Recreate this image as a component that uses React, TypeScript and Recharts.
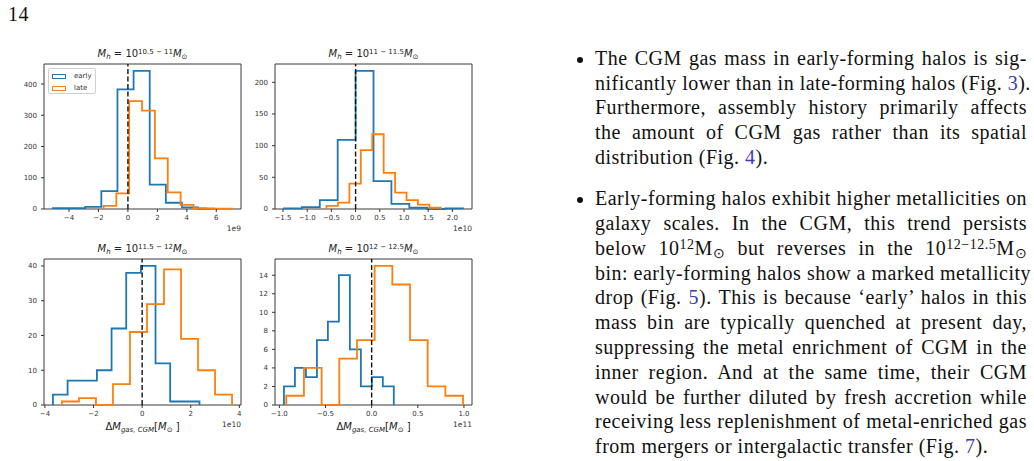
import React from 'react';
import { LineChart, Line, XAxis, YAxis, ReferenceLine, ReferenceArea } from 'recharts';

const EARLY = '#1f77b4';
const LATE = '#ff7f0e';

// Mh = 10^10.5-11, x in units of 1e9 Msun
const earlyEdgesA = [-5.09, -3.995, -2.9, -1.805, -0.71, 0.385, 1.48, 2.575, 3.67, 4.765, 5.86];
const earlyCountsA = [3, 3, 7, 57, 383, 442, 78, 20, 5, 1];
const lateEdgesA = [-1.66, -0.787, 0.086, 0.959, 1.832, 2.705, 3.578, 4.451, 5.324, 6.197, 7.07];
const lateCountsA = [10, 50, 345, 315, 162, 53, 13, 3, 1, 1];
const xTicksA = [-4, -2, 0, 2, 4, 6];
const yTicksA = [0, 100, 200, 300, 400];

// Mh = 10^11-11.5, x in units of 1e10 Msun
const earlyEdgesB = [-1.48, -1.11, -0.74, -0.37, 0.0, 0.37, 0.74, 1.11, 1.48, 1.85, 2.22];
const earlyCountsB = [1, 3, 14, 109, 218, 44, 8, 2, 0, 1];
const lateEdgesB = [-0.6, -0.364, -0.128, 0.108, 0.344, 0.58, 0.816, 1.052, 1.288, 1.524, 1.76];
const lateCountsB = [5, 10, 40, 93, 118, 57, 26, 14, 7, 2];
const xTicksB = [-1.5, -1.0, -0.5, 0.0, 0.5, 1.0, 1.5, 2.0];
const yTicksB = [0, 50, 100, 150, 200];

// Mh = 10^11.5-12, x in units of 1e10 Msun
const earlyEdgesC = [-3.67, -3.067, -2.464, -1.861, -1.258, -0.655, -0.052, 0.551, 1.154, 1.757, 2.36];
const earlyCountsC = [3, 7, 7, 10, 22, 38, 40, 12, 1, 1];
const lateEdgesC = [-3.3, -2.6, -1.9, -1.2, -0.5, 0.2, 0.9, 1.6, 2.3, 3.0, 3.7];
const lateCountsC = [1, 2, 0, 6, 21, 29, 39, 19, 10, 3];
const xTicksC = [-4, -2, 0, 2, 4];
const yTicksC = [0, 10, 20, 30, 40];

// Mh = 10^12-12.5, x in units of 1e11 Msun
const earlyEdgesD = [-0.95, -0.831, -0.712, -0.593, -0.474, -0.355, -0.236, -0.117, 0.002, 0.121, 0.24];
const earlyCountsD = [2, 4, 3, 7, 9, 14, 6, 2, 3, 2];
const lateEdgesD = [-0.925, -0.7335, -0.542, -0.3505, -0.159, 0.0325, 0.224, 0.4155, 0.607, 0.7985, 0.99];
const lateCountsD = [1, 4, 0, 5, 7, 15, 13, 7, 2, 1];
const xTicksD = [-1.0, -0.5, 0.0, 0.5, 1.0];
const yTicksD = [0, 2, 4, 6, 8, 10, 12, 14];

type Pt = { x: number; y: number };
type Box = { left: number; right: number; top: number; bottom: number };

// outline of a histtype='step' histogram, drawn with a stepAfter line
function stepOutline(edges: number[], counts: number[]): Pt[] {
  const pts: Pt[] = [{ x: edges[0], y: 0 }];
  counts.forEach((c, i) => pts.push({ x: edges[i], y: c }));
  pts.push({ x: edges[edges.length - 1], y: 0 });
  return pts;
}

// 5% padding on the x range, like matplotlib autoscale
function padRange(a: number[], b: number[]): [number, number] {
  const lo = Math.min(a[0], b[0]);
  const hi = Math.max(a[a.length - 1], b[b.length - 1]);
  const m = (hi - lo) * 0.05;
  return [lo - m, hi + m];
}

const fmt = (d: number) => (v: number) => v.toFixed(d).replace('-', '\u2212');

const tickFont = { fontSize: 7, fontFamily: '"DejaVu Sans", sans-serif', fill: '#333' };
const mathFont = '"DejaVu Sans", sans-serif';

const Sup = ({ children, size = '0.7em', up = '-0.5em' }: any) => (
  <span style={{ fontSize: size, position: 'relative', top: up }}>{children}</span>
);
const Sub = ({ children, size = '0.7em', down = '0.3em' }: any) => (
  <span style={{ fontSize: size, position: 'relative', top: down }}>{children}</span>
);

function Title({ bin, cx, cy }: { bin: string; cx: number; cy: number }) {
  return (
    <div style={{ position: 'absolute', left: cx - 80, top: cy - 6, width: 160, textAlign: 'center', fontFamily: mathFont, fontSize: 10, lineHeight: '12px', color: '#222', whiteSpace: 'nowrap' }}>
      <i>M</i><Sub><i>h</i></Sub> = 10<Sup>{bin}</Sup><i>M</i><Sub>{'\u2299'}</Sub>
    </div>
  );
}

function XLabel({ cx, cy }: { cx: number; cy: number }) {
  return (
    <div style={{ position: 'absolute', left: cx - 80, top: cy - 6, width: 160, textAlign: 'center', fontFamily: mathFont, fontSize: 10, lineHeight: '12px', color: '#222', whiteSpace: 'nowrap' }}>
      {'\u0394'}<i>M</i><Sub><i>gas, CGM</i></Sub>[<i>M</i><Sub>{'\u2299'}</Sub> ]
    </div>
  );
}

interface PanelProps {
  box: Box;
  bin: string;
  offset: string;
  earlyEdges: number[];
  earlyCounts: number[];
  lateEdges: number[];
  lateCounts: number[];
  xTicks: number[];
  yTicks: number[];
  xDec: number;
  xlabel?: boolean;
}

function HistPanel(p: PanelProps) {
  const yw = 34, mt = 4, mr = 4, xh = 22;
  const { box } = p;
  const w = box.right - box.left;
  const h = box.bottom - box.top;
  const xDomain = padRange(p.earlyEdges, p.lateEdges);
  const yMax = Math.max(...p.earlyCounts, ...p.lateCounts) * 1.05;
  const early = stepOutline(p.earlyEdges, p.earlyCounts);
  const late = stepOutline(p.lateEdges, p.lateCounts);
  return (
    <>
      <Title bin={p.bin} cx={(box.left + box.right) / 2} cy={box.top - 10} />
      <div style={{ position: 'absolute', left: box.left - yw, top: box.top - mt }}>
        <LineChart width={yw + w + mr} height={mt + h + xh} margin={{ top: mt, right: mr, bottom: 0, left: 0 }}>
          <XAxis
            type="number"
            dataKey="x"
            domain={xDomain}
            ticks={p.xTicks}
            interval={0}
            tickFormatter={fmt(p.xDec)}
            height={xh}
            axisLine={false}
            tickLine={{ stroke: '#333' }}
            tickSize={3}
            tickMargin={3}
            tick={tickFont}
          />
          <YAxis
            type="number"
            domain={[0, yMax]}
            ticks={p.yTicks}
            interval={0}
            tickFormatter={fmt(0)}
            width={yw}
            axisLine={false}
            tickLine={{ stroke: '#333' }}
            tickSize={3}
            tickMargin={4}
            tick={tickFont}
          />
          <ReferenceArea x1={xDomain[0]} x2={xDomain[1]} y1={0} y2={yMax} fill="none" stroke="#3a3a3a" strokeWidth={1} />
          <Line data={early} dataKey="y" name="early" type="stepAfter" stroke={EARLY} strokeWidth={1.8} dot={false} isAnimationActive={false} />
          <Line data={late} dataKey="y" name="late" type="stepAfter" stroke={LATE} strokeWidth={1.8} dot={false} isAnimationActive={false} />
          <ReferenceLine x={0} stroke="#111" strokeWidth={1.4} strokeDasharray="5 2.5" />
        </LineChart>
      </div>
      <div style={{ position: 'absolute', left: box.right - 40, top: box.bottom + 15, width: 40, textAlign: 'right', fontFamily: mathFont, fontSize: 7.5, lineHeight: '9px', color: '#333' }}>
        {p.offset}
      </div>
      {p.xlabel && <XLabel cx={(box.left + box.right) / 2} cy={box.bottom + 22} />}
    </>
  );
}

function HistLegend() {
  const entry = (color: string, label: string) => (
    <div style={{ display: 'flex', alignItems: 'center', height: 12 }}>
      <div style={{ width: 12, height: 3, border: `1.8px solid ${color}`, marginRight: 8 }} />
      <span>{label}</span>
    </div>
  );
  return (
    <div style={{ position: 'absolute', left: 48, top: 68, width: 48, height: 26, boxSizing: 'border-box', border: '1px solid #d0d0d0', borderRadius: 2, background: 'rgba(255,255,255,0.8)', padding: '1px 0 0 3px', fontFamily: mathFont, fontSize: 7, color: '#333' }}>
      {entry(EARLY, 'early')}
      {entry(LATE, 'late')}
    </div>
  );
}

const LINK = '#3c3cb0';
const Ref = ({ n }: { n: string }) => <span style={{ color: LINK }}>{n}</span>;

const serif = '"Liberation Serif", serif';

function TextRow({ y, last, children }: { y: number; last?: boolean; children: any }) {
  return (
    <div style={{ position: 'absolute', left: 595, top: y - 12.2, width: 432, height: 20, lineHeight: '20px', fontSize: 20, letterSpacing: 0.5, fontFamily: serif, color: '#111', textAlign: 'justify', textAlignLast: last ? 'left' : 'justify', whiteSpace: 'nowrap' }}>
      {children}
    </div>
  );
}

const Bullet = ({ y }: { y: number }) => (
  <div style={{ position: 'absolute', left: 577, top: y - 3, width: 6, height: 6, borderRadius: 3, background: '#111' }} />
);

const Msun = () => (
  <>M<Sub size="0.7em" down="0.25em">{'\u2299'}</Sub></>
);

export default function App() {
  const p1 = [60, 84.8, 109.6, 134.4, 159.2];
  const p2 = [200.4, 225.2, 250, 274.8, 299.6, 324.4, 349.2, 374, 398.8, 423.6, 448.4];
  return (
    <div style={{ position: 'absolute', left: 0, top: 0, width: 1034, height: 461, background: '#fff', overflow: 'hidden' }}>
      <div style={{ position: 'absolute', left: 8, top: 4, fontSize: 20, lineHeight: '20px', letterSpacing: 0.5, fontFamily: serif, color: '#111' }}>14</div>

      <HistPanel box={{ left: 44, right: 241, top: 64, bottom: 209 }} bin={'10.5 \u2212 11'} offset="1e9"
        earlyEdges={earlyEdgesA} earlyCounts={earlyCountsA} lateEdges={lateEdgesA} lateCounts={lateCountsA}
        xTicks={xTicksA} yTicks={yTicksA} xDec={0} />
      <HistPanel box={{ left: 275, right: 472, top: 64, bottom: 209 }} bin={'11 \u2212 11.5'} offset="1e10"
        earlyEdges={earlyEdgesB} earlyCounts={earlyCountsB} lateEdges={lateEdgesB} lateCounts={lateCountsB}
        xTicks={xTicksB} yTicks={yTicksB} xDec={1} />
      <HistPanel box={{ left: 44, right: 241, top: 259, bottom: 405 }} bin={'11.5 \u2212 12'} offset="1e10"
        earlyEdges={earlyEdgesC} earlyCounts={earlyCountsC} lateEdges={lateEdgesC} lateCounts={lateCountsC}
        xTicks={xTicksC} yTicks={yTicksC} xDec={0} xlabel />
      <HistPanel box={{ left: 275, right: 472, top: 259, bottom: 405 }} bin={'12 \u2212 12.5'} offset="1e11"
        earlyEdges={earlyEdgesD} earlyCounts={earlyCountsD} lateEdges={lateEdgesD} lateCounts={lateCountsD}
        xTicks={xTicksD} yTicks={yTicksD} xDec={1} xlabel />
      <HistLegend />

      <Bullet y={p1[0]} />
      <TextRow y={p1[0]}>The CGM gas mass in early-forming halos is sig-</TextRow>
      <TextRow y={p1[1]}>nificantly lower than in late-forming halos (Fig. <Ref n="3" />).</TextRow>
      <TextRow y={p1[2]}>Furthermore, assembly history primarily affects</TextRow>
      <TextRow y={p1[3]}>the amount of CGM gas rather than its spatial</TextRow>
      <TextRow y={p1[4]} last>distribution (Fig. <Ref n="4" />).</TextRow>

      <Bullet y={p2[0]} />
      <TextRow y={p2[0]}>Early-forming halos exhibit higher metallicities on</TextRow>
      <TextRow y={p2[1]}>galaxy scales.  In the CGM, this trend persists</TextRow>
      <TextRow y={p2[2]}>below 10<Sup size="0.7em" up="-0.45em">12</Sup><Msun /> but reverses in the 10<Sup size="0.7em" up="-0.45em">12{'\u2212'}12.5</Sup><Msun /></TextRow>
      <TextRow y={p2[3]}>bin: early-forming halos show a marked metallicity</TextRow>
      <TextRow y={p2[4]}>drop (Fig. <Ref n="5" />).  This is because {'\u2018'}early{'\u2019'} halos in this</TextRow>
      <TextRow y={p2[5]}>mass bin are typically quenched at present day,</TextRow>
      <TextRow y={p2[6]}>suppressing the metal enrichment of CGM in the</TextRow>
      <TextRow y={p2[7]}>inner region.  And at the same time, their CGM</TextRow>
      <TextRow y={p2[8]}>would be further diluted by fresh accretion while</TextRow>
      <TextRow y={p2[9]}>receiving less replenishment of metal-enriched gas</TextRow>
      <TextRow y={p2[10]} last>from mergers or intergalactic transfer (Fig. <Ref n="7" />).</TextRow>
    </div>
  );
}
